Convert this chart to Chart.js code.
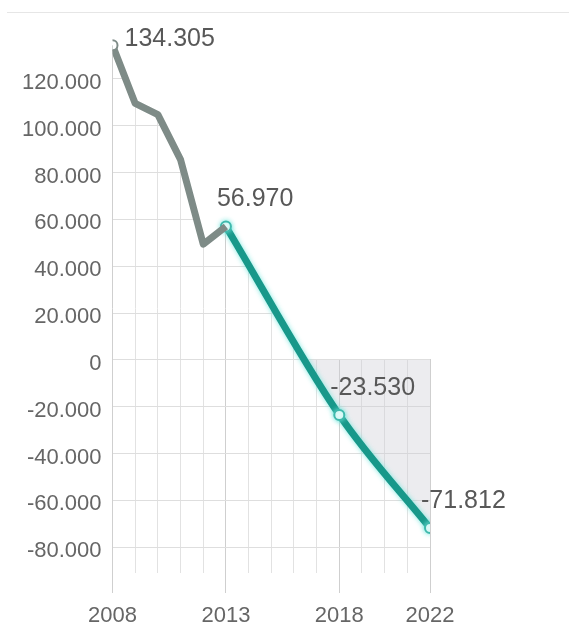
<!DOCTYPE html>
<html lang="en">
<head>
<meta charset="UTF-8" />
<title>Saldo 2008 - 2022</title>
<script src="https://cdn.jsdelivr.net/npm/chart.js@4.4.0/dist/chart.umd.min.js"></script>
<style>
  body { margin: 0; background: #fff; }
  .chart-container { position: relative; width: 569px; height: 631px; }
  .top-rule { position: absolute; left: 7px; right: 0; top: 12px; border-top: 1px solid #e6e6e6; }
  canvas { position: absolute; left: 0; top: 0; }
</style>
</head>
<body>
<div class="chart-container">
  <div class="top-rule"></div>
  <canvas id="balanceChart" width="569" height="631"></canvas>
</div>
<script>
// recorded years (grey) and projection (teal)
const pastYears = [2008, 2009, 2010, 2011, 2012, 2013];
const pastValues = [134305, 109500, 104700, 85500, 49400, 56970];
const forecastYears = [2013, 2018, 2022];
const forecastValues = [56970, -23530, -71812];
const labelledYears = [2008, 2013, 2018, 2022];
const yTickValues = [-80000, -60000, -40000, -20000, 0, 20000, 40000, 60000, 80000, 100000, 120000];

const FONT = "'Liberation Sans', Arial, sans-serif";

function fmt(v) {
  const s = Math.abs(v).toString().replace(/\B(?=(\d{3})+(?!\d))/g, ".");
  return (v < 0 ? "-" : "") + s;
}

// grid is only visible below the curve (and below zero under the projection)
const gridClip = {
  id: "gridClip",
  beforeDraw(chart) {
    const ctx = chart.ctx;
    const area = chart.chartArea;
    const y = chart.scales.y;
    const pts = chart.getDatasetMeta(0).data.concat(chart.getDatasetMeta(1).data.slice(1));
    const bottom = chart.height;
    ctx.save();
    ctx.beginPath();
    ctx.moveTo(area.left - 2, bottom);
    ctx.lineTo(area.left - 2, pts[0].y);
    pts.forEach((p) => ctx.lineTo(p.x, p.y));
    ctx.lineTo(area.right + 2, pts[pts.length - 1].y);
    ctx.lineTo(area.right + 2, bottom);
    ctx.closePath();
    const zero = y.getPixelForValue(0);
    ctx.rect(area.left - 2, zero - 1, area.right - area.left + 4, bottom - zero + 1);
    ctx.clip();
  },
  beforeDatasetsDraw(chart) {
    chart.ctx.restore();
  },
};

// soft halo around the projection line
const glow = {
  id: "glow",
  beforeDatasetDraw(chart, args) {
    if (args.index !== 1) return;
    chart.ctx.save();
    chart.ctx.shadowColor = "rgba(110, 230, 220, 0.9)";
    chart.ctx.shadowBlur = 5;
  },
  afterDatasetDraw(chart, args) {
    if (args.index !== 1) return;
    chart.ctx.restore();
  },
};

const valueLabels = {
  id: "valueLabels",
  afterDatasetsDraw(chart) {
    const ctx = chart.ctx;
    ctx.save();
    ctx.font = "25px " + FONT;
    ctx.fillStyle = "#585858";
    ctx.textBaseline = "middle";
    ctx.textAlign = "left";
    const first = chart.getDatasetMeta(0).data[0];
    ctx.fillText(fmt(pastValues[0]), first.x + 12, first.y - 6);
    chart.getDatasetMeta(1).data.forEach((p, i) => {
      ctx.fillText(fmt(forecastValues[i]), p.x - 9, p.y - 27);
    });
    ctx.restore();
  },
};

new Chart(document.getElementById("balanceChart"), {
  type: "line",
  data: {
    datasets: [
      {
        data: pastYears.map((x, i) => ({ x, y: pastValues[i] })),
        borderColor: "#7e8b87",
        borderWidth: 7,
        borderJoinStyle: "round",
        pointRadius: (c) => (c.dataIndex === 0 ? 5 : 0),
        pointBackgroundColor: "#fff",
        pointBorderColor: "#7e8b87",
        pointBorderWidth: 2,
        fill: false,
      },
      {
        data: forecastYears.map((x, i) => ({ x, y: forecastValues[i] })),
        borderColor: "#18988a",
        borderWidth: 7,
        cubicInterpolationMode: "monotone",
        pointRadius: 5,
        pointBackgroundColor: "#fff",
        pointBorderColor: "#3fb9ac",
        pointBorderWidth: 2,
        fill: { target: "origin", above: "rgba(0,0,0,0)", below: "rgba(205, 205, 212, 0.38)" },
      },
    ],
  },
  options: {
    responsive: false,
    animation: false,
    layout: { padding: { left: 11, right: 139, top: 32, bottom: -8 } },
    plugins: { legend: { display: false }, tooltip: { enabled: false } },
    scales: {
      x: {
        type: "linear",
        min: 2008,
        max: 2022,
        border: { display: false },
        grid: {
          color: (c) => (labelledYears.includes(c.tick.value) ? "#cfcfcf" : "#e2e2e2"),
          tickColor: (c) => (labelledYears.includes(c.tick.value) ? "#cfcfcf" : "rgba(0,0,0,0)"),
          tickLength: 20,
        },
        ticks: {
          z: 1,
          stepSize: 1,
          autoSkip: false,
          maxRotation: 0,
          padding: 12,
          color: "#666",
          font: { family: FONT, size: 22, lineHeight: 1 },
          callback: (v) => (labelledYears.includes(v) ? String(v) : ""),
        },
      },
      y: {
        min: -91000,
        max: 140000,
        border: { display: false },
        afterBuildTicks: (scale) => {
          scale.ticks = yTickValues.map((value) => ({ value }));
        },
        grid: { color: "#dedede", drawTicks: false },
        ticks: {
          z: 1,
          padding: 11,
          labelOffset: 4,
          color: "#666",
          font: { family: FONT, size: 22 },
          callback: (v) => fmt(v),
        },
      },
    },
  },
  plugins: [gridClip, glow, valueLabels],
});
</script>
</body>
</html>
